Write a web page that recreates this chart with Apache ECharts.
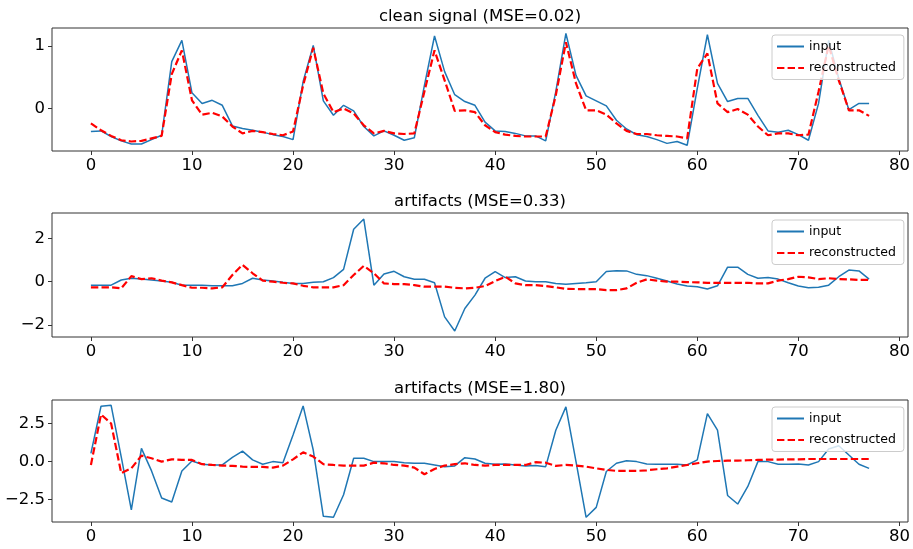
<!DOCTYPE html>
<html>
<head>
<meta charset="utf-8">
<script src="https://cdn.jsdelivr.net/npm/echarts@6/dist/echarts.min.js"></script>
<style>
html,body{margin:0;padding:0;background:#fff;}
#chart{width:913px;height:549px;}
</style>
</head>
<body>
<div id="chart"></div>
<script>
// ---- data ----
const titles = ['clean signal (MSE=0.02)', 'artifacts (MSE=0.33)', 'artifacts (MSE=1.80)'];
const xTicks = [0, 10, 20, 30, 40, 50, 60, 70, 80];
const yTicks1 = [0, 1];
const yTicks2 = [-2, 0, 2];
const yTicks3 = [-2.5, 0, 2.5];

const input1 = [-0.37,-0.36,-0.45,-0.52,-0.57,-0.57,-0.50,-0.43,0.75,1.09,0.25,0.08,0.13,0.05,-0.28,-0.32,-0.35,-0.38,-0.42,-0.45,-0.50,0.43,1.01,0.12,-0.11,0.05,-0.04,-0.29,-0.44,-0.36,-0.43,-0.51,-0.47,0.37,1.16,0.59,0.22,0.11,0.05,-0.22,-0.36,-0.37,-0.40,-0.44,-0.44,-0.52,0.27,1.20,0.53,0.20,0.12,0.04,-0.19,-0.33,-0.42,-0.45,-0.50,-0.56,-0.53,-0.59,0.32,1.18,0.40,0.11,0.16,0.16,-0.11,-0.36,-0.38,-0.35,-0.42,-0.51,0.08,1.09,0.48,-0.02,0.08,0.08];
const recon1 = [-0.24,-0.35,-0.44,-0.51,-0.53,-0.52,-0.48,-0.44,0.55,0.93,0.13,-0.10,-0.07,-0.13,-0.29,-0.40,-0.36,-0.38,-0.41,-0.43,-0.37,0.37,0.97,0.24,-0.06,0.00,-0.08,-0.27,-0.40,-0.36,-0.40,-0.41,-0.40,0.27,0.93,0.45,-0.04,-0.03,-0.06,-0.27,-0.38,-0.42,-0.44,-0.45,-0.45,-0.45,0.21,1.06,0.40,-0.03,-0.03,-0.10,-0.24,-0.36,-0.41,-0.41,-0.43,-0.44,-0.45,-0.48,0.64,0.88,0.08,-0.06,-0.01,-0.10,-0.29,-0.43,-0.40,-0.40,-0.43,-0.42,0.27,1.01,0.45,-0.03,-0.03,-0.12];

const input2 = [-0.16,-0.16,-0.16,0.08,0.16,0.12,0.08,0.03,-0.03,-0.16,-0.16,-0.16,-0.19,-0.19,-0.19,-0.08,0.16,0.08,0.03,-0.03,-0.08,-0.08,-0.03,0.00,0.19,0.57,2.43,2.90,-0.16,0.36,0.48,0.23,0.11,0.11,-0.05,-1.63,-2.28,-1.24,-0.62,0.16,0.47,0.19,0.23,0.03,0.00,0.00,-0.08,-0.12,-0.08,-0.05,0.00,0.47,0.51,0.50,0.34,0.28,0.16,0.03,-0.11,-0.20,-0.23,-0.34,-0.19,0.67,0.67,0.34,0.16,0.19,0.12,-0.05,-0.20,-0.28,-0.26,-0.16,0.23,0.54,0.50,0.12];
const recon2 = [-0.26,-0.26,-0.26,-0.31,0.26,0.12,0.16,0.05,-0.03,-0.16,-0.28,-0.28,-0.31,-0.26,0.31,0.78,0.39,0.05,0.00,-0.05,-0.08,-0.19,-0.26,-0.26,-0.26,-0.16,0.31,0.73,0.39,-0.08,-0.11,-0.11,-0.16,-0.23,-0.23,-0.23,-0.28,-0.31,-0.28,-0.20,0.03,0.23,-0.08,-0.16,-0.16,-0.20,-0.26,-0.33,-0.34,-0.34,-0.34,-0.39,-0.39,-0.31,-0.05,0.11,0.05,0.00,0.00,-0.02,-0.03,-0.05,-0.05,-0.05,-0.05,-0.05,-0.08,-0.08,0.05,0.12,0.23,0.20,0.12,0.16,0.12,0.11,0.08,0.08];

const input3 = [0.53,3.62,3.68,0.30,-3.17,0.86,-0.62,-2.40,-2.66,-0.62,0.03,-0.18,-0.23,-0.23,0.27,0.68,0.10,-0.18,-0.01,-0.08,1.73,3.64,0.75,-3.60,-3.66,-2.18,0.21,0.21,-0.01,-0.01,-0.01,-0.08,-0.12,-0.12,-0.23,-0.34,-0.29,0.25,0.16,-0.12,-0.18,-0.16,-0.23,-0.29,-0.27,-0.34,2.05,3.58,-0.01,-3.66,-3.01,-0.66,-0.12,0.05,-0.01,-0.16,-0.18,-0.18,-0.18,-0.23,0.10,3.14,2.05,-2.23,-2.79,-1.64,-0.01,-0.01,-0.18,-0.18,-0.16,-0.23,-0.01,0.82,1.03,0.42,-0.18,-0.45];
const recon3 = [-0.23,3.08,2.49,-0.77,-0.45,0.38,0.21,-0.01,0.14,0.10,0.10,-0.18,-0.23,-0.27,-0.29,-0.34,-0.36,-0.36,-0.40,-0.27,0.14,0.60,0.32,-0.18,-0.23,-0.27,-0.27,-0.27,-0.08,-0.12,-0.23,-0.27,-0.40,-0.84,-0.49,-0.27,-0.18,-0.12,-0.23,-0.27,-0.23,-0.23,-0.23,-0.23,-0.05,-0.08,-0.29,-0.23,-0.27,-0.34,-0.45,-0.55,-0.62,-0.62,-0.62,-0.58,-0.51,-0.45,-0.34,-0.23,-0.12,-0.01,0.03,0.05,0.05,0.08,0.10,0.12,0.12,0.14,0.14,0.16,0.16,0.16,0.16,0.16,0.16,0.16];

// ---- layout ----
const panels = [
  {title: titles[0], input: input1, recon: recon1, yTicks: yTicks1, ymin: -0.682, ymax: 1.288, top: 28, height: 123, dec: 0},
  {title: titles[1], input: input2, recon: recon2, yTicks: yTicks2, ymin: -2.56, ymax: 3.18, top: 213, height: 124, dec: 0},
  {title: titles[2], input: input3, recon: recon3, yTicks: yTicks3, ymin: -3.97, ymax: 4.03, top: 400, height: 122, dec: 1}
];

const FONT = 'DejaVu Sans';
const fmt = (v, dec) => Number(v).toFixed(dec).replace('-', '\u2212');

const grid = [], xAxis = [], yAxis = [], series = [], title = [], legend = [];
panels.forEach((p, k) => {
  grid.push({left: 52, right: 5, top: p.top, height: p.height, show: true, borderColor: '#333', borderWidth: 1, backgroundColor: 'transparent'});
  title.push({text: p.title, left: 480, top: p.top - 20, textAlign: 'center', padding: 0,
    textStyle: {fontFamily: FONT, fontSize: 16.5, fontWeight: 'normal', color: '#000', lineHeight: 18}});
  xAxis.push({type: 'value', gridIndex: k, min: -3.85, max: 80.85, position: 'bottom',
    axisLine: {show: false, onZero: false}, splitLine: {show: false},
    axisTick: {show: true, inside: false, length: 4, customValues: xTicks, lineStyle: {color: '#333', width: 1}},
    axisLabel: {show: true, margin: 6, customValues: xTicks, fontFamily: FONT, fontSize: 16.5, color: '#000', formatter: v => fmt(v, 0)}});
  yAxis.push({type: 'value', gridIndex: k, min: p.ymin, max: p.ymax, position: 'left',
    axisLine: {show: false, onZero: false}, splitLine: {show: false},
    axisTick: {show: true, inside: false, length: 4, customValues: p.yTicks, lineStyle: {color: '#333', width: 1}},
    axisLabel: {show: true, margin: 7, customValues: p.yTicks, fontFamily: FONT, fontSize: 16.5, color: '#000', formatter: v => fmt(v, p.dec)}});
  series.push({name: 'input', type: 'line', xAxisIndex: k, yAxisIndex: k, symbol: 'none', showSymbol: false,
    data: p.input.map((v, i) => [i, v]), lineStyle: {color: '#1f77b4', width: 1.5}, itemStyle: {color: '#1f77b4'}, z: 2});
  series.push({name: 'reconstructed', type: 'line', xAxisIndex: k, yAxisIndex: k, symbol: 'none', showSymbol: false,
    data: p.recon.map((v, i) => [i, v]), lineStyle: {color: '#ff0000', width: 2.2, type: [7.4, 3.2]}, itemStyle: {color: '#ff0000'}, z: 3});
  legend.push({data: ['input', 'reconstructed'], orient: 'vertical', left: 772, top: p.top + 7,
    width: 130, itemWidth: 27, itemHeight: 12, itemGap: 8.5, padding: [5, 8, 5, 4],
    backgroundColor: 'rgba(255,255,255,0.8)', borderColor: '#cccccc', borderWidth: 1, borderRadius: 3,
    selectedMode: false, z: 10, itemStyle: {opacity: 0},
    textStyle: {fontFamily: FONT, fontSize: 12.5, color: '#000'}});
});

const chart = echarts.init(document.getElementById('chart'), null, {renderer: 'canvas', width: 913, height: 549});
chart.setOption({animation: false, backgroundColor: '#fff', title, grid, xAxis, yAxis, series, legend});
</script>
</body>
</html>
